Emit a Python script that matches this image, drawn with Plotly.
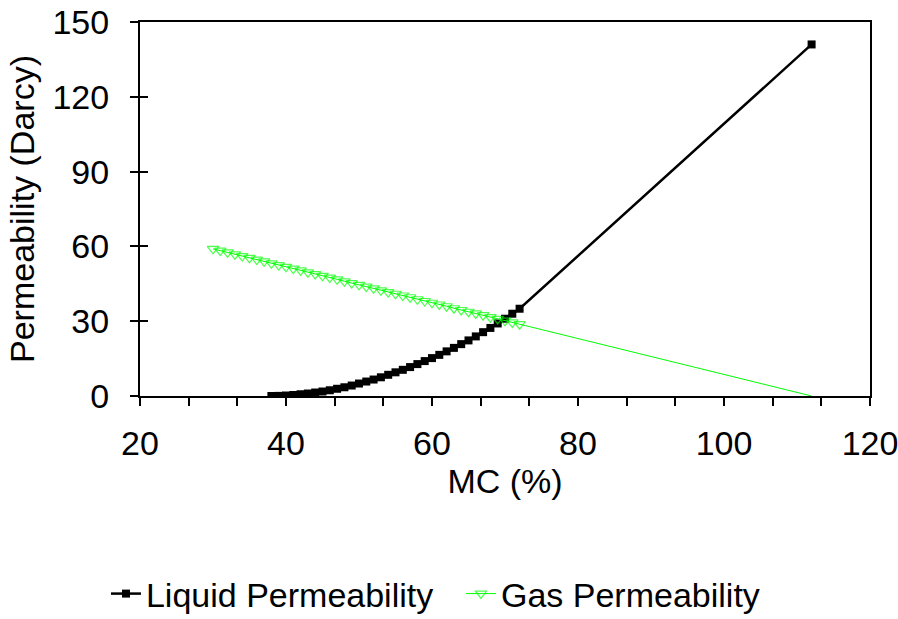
import plotly.graph_objects as go

# Liquid permeability (Darcy) vs MC (%)
liq_mc = [38, 39, 40, 41, 42, 43, 44, 45, 46, 47, 48, 49, 50, 51, 52, 53, 54, 55,
          56, 57, 58, 59, 60, 61, 62, 63, 64, 65, 66, 67, 68, 69, 70, 71, 72, 112]
liq_perm = [0.0, 0.05, 0.2, 0.4, 0.7, 1.0, 1.4, 1.8, 2.3, 2.9, 3.5, 4.2, 5.0, 5.8,
            6.6, 7.5, 8.5, 9.5, 10.5, 11.6, 12.8, 14.0, 15.2, 16.5, 17.9, 19.3,
            20.8, 22.3, 23.9, 25.6, 27.3, 29.1, 31.0, 33.0, 35.0, 141.0]

# Gas permeability (Darcy) vs MC (%)
gas_mc = [30, 31, 32, 33, 34, 35, 36, 37, 38, 39, 40, 41, 42, 43, 44, 45, 46, 47,
          48, 49, 50, 51, 52, 53, 54, 55, 56, 57, 58, 59, 60, 61, 62, 63, 64, 65,
          66, 67, 68, 69, 70, 71, 72, 112]
gas_perm = [59.0, 58.3, 57.6, 56.8, 56.1, 55.4, 54.7, 54.0, 53.2, 52.5, 51.8, 51.1,
            50.4, 49.6, 48.9, 48.2, 47.5, 46.8, 46.0, 45.3, 44.6, 43.9, 43.2, 42.4,
            41.7, 41.0, 40.3, 39.6, 38.8, 38.1, 37.4, 36.7, 36.0, 35.2, 34.5, 33.8,
            33.1, 32.4, 31.6, 30.9, 30.2, 29.5, 28.8, 0.0]
gas_marker_sizes = [10] * (len(gas_mc) - 1) + [0]

FONT = "Arial, Liberation Sans, sans-serif"
FS = 34

fig = go.Figure()
fig.add_trace(go.Scatter(
    x=liq_mc, y=liq_perm, mode="lines+markers", name="Liquid Permeability",
    line=dict(color="black", width=2.5),
    marker=dict(symbol="square", size=8, color="black"),
))
fig.add_trace(go.Scatter(
    x=gas_mc, y=gas_perm, mode="lines+markers", name="Gas Permeability",
    line=dict(color="#00FF00", width=1),
    marker=dict(symbol="triangle-down-open", size=gas_marker_sizes, color="#00FF00",
                line=dict(width=1.2, color="#00FF00")),
))
# empty trace on an overlay axis that draws the inner half of the crossing y ticks
fig.add_trace(go.Scatter(x=[], y=[], yaxis="y2", showlegend=False, hoverinfo="skip"))

fig.update_layout(
    width=898, height=619,
    margin=dict(l=140, r=28, t=22, b=223),
    paper_bgcolor="white", plot_bgcolor="white",
    font=dict(family=FONT, size=FS, color="black"),
    showlegend=True,
    legend=dict(orientation="h", xref="container", yref="container",
                x=0.118, xanchor="left", y=0.0404, yanchor="middle",
                entrywidth=310, font=dict(size=FS), traceorder="normal"),
    xaxis=dict(
        range=[20, 120], dtick=20, tick0=20, automargin=False,
        ticklabeloverflow="allow",
        showline=True, linecolor="black", linewidth=2, mirror=True,
        ticks="outside", ticklen=8, tickwidth=2, tickcolor="black",
        minor=dict(dtick=20/3, tick0=20, ticks="outside", ticklen=8, tickwidth=1.5,
                   tickcolor="black"),
        showgrid=False, zeroline=False,
        ticklabelstandoff=8,
        title=dict(text="MC (%)", standoff=4, font=dict(size=FS)),
        tickfont=dict(size=FS),
    ),
    yaxis=dict(
        range=[0, 150], dtick=30, tick0=0, automargin=False,
        ticklabeloverflow="allow",
        showline=True, linecolor="black", linewidth=2, mirror=True,
        ticks="outside", ticklen=8, tickwidth=2, tickcolor="black",
        showgrid=False, zeroline=False,
        ticklabelstandoff=14,
        title=dict(text="Permeability (Darcy)", standoff=8, font=dict(size=FS)),
        tickfont=dict(size=FS),
    ),
    yaxis2=dict(overlaying="y", anchor="x", side="left", range=[0, 150], dtick=30,
                ticks="inside", ticklen=8, tickwidth=2, tickcolor="black",
                showticklabels=False, showgrid=False, zeroline=False, showline=False),
)

fig.write_html("out.html")
